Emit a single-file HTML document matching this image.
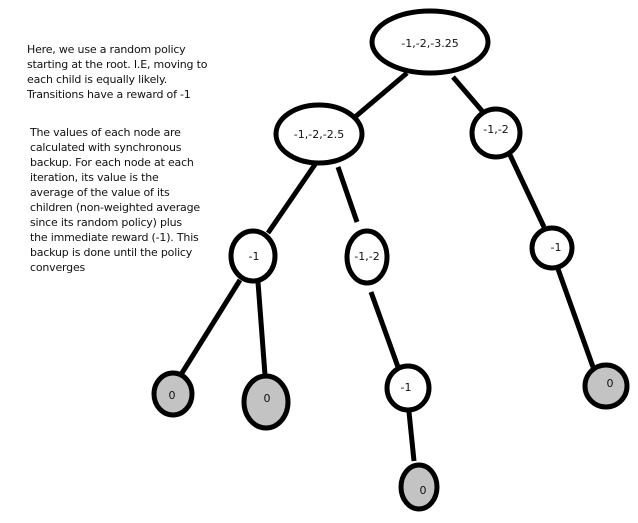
<!DOCTYPE html>
<html><head><style>
body{margin:0;background:#fff;width:638px;height:523px;overflow:hidden;position:relative;font-family:"DejaVu Sans","Liberation Sans",sans-serif;}
.t{position:absolute;font-size:11px;line-height:15px;color:#111;white-space:nowrap;letter-spacing:-0.2px}
</style></head><body>
<div class="t" style="left:27px;top:42px">Here, we use a random policy<br>starting at the root. I.E, moving to<br>each child is equally likely.<br>Transitions have a reward of -1</div>
<div class="t" style="left:30px;top:125px">The values of each node are<br>calculated with synchronous<br>backup. For each node at each<br>iteration, its value is the<br>average of the value of its<br>children (non-weighted average<br>since its random policy) plus<br>the immediate reward (-1). This<br>backup is done until the policy<br>converges</div>
<svg width="638" height="523" style="position:absolute;left:0;top:0" font-family="DejaVu Sans, Liberation Sans, sans-serif" font-size="11">
<g stroke="#000" stroke-width="5" stroke-linecap="butt">
<line x1="407" y1="73" x2="355" y2="117"/>
<line x1="453" y1="77" x2="483" y2="112"/>
<line x1="510" y1="155" x2="544" y2="227"/>
<line x1="558" y1="269" x2="593" y2="367"/>
<line x1="338" y1="167" x2="357" y2="222"/>
<line x1="316" y1="163" x2="268" y2="233"/>
<line x1="240" y1="280" x2="182" y2="373"/>
<line x1="258" y1="282" x2="265" y2="375"/>
<line x1="371" y1="292" x2="398" y2="367"/>
<line x1="409" y1="412" x2="414" y2="461"/>
</g>
<g stroke="#000" stroke-width="5">
<ellipse cx="430" cy="42" rx="58" ry="31" fill="#fff"/>
<ellipse cx="319" cy="134" rx="43" ry="29" fill="#fff"/>
<circle cx="496" cy="133" r="24" fill="#fff"/>
<ellipse cx="253" cy="256" rx="22" ry="25" fill="#fff"/>
<ellipse cx="367" cy="257" rx="20" ry="26" fill="#fff"/>
<circle cx="552" cy="248" r="20" fill="#fff"/>
<ellipse cx="408" cy="388" rx="21" ry="22" fill="#fff"/>
<ellipse cx="173" cy="394" rx="19" ry="21" fill="#c3c3c3"/>
<ellipse cx="266" cy="402" rx="22" ry="26" fill="#c3c3c3"/>
<ellipse cx="419" cy="487" rx="18" ry="22" fill="#c3c3c3"/>
<circle cx="606" cy="386" r="21" fill="#c3c3c3"/>
</g>
<g fill="#111" text-anchor="middle">
<text x="430" y="47">-1,-2,-3.25</text>
<text x="319" y="138">-1,-2,-2.5</text>
<text x="496" y="133">-1,-2</text>
<text x="254" y="260">-1</text>
<text x="367" y="260">-1,-2</text>
<text x="556" y="251">-1</text>
<text x="406" y="391">-1</text>
<text x="172" y="399">0</text>
<text x="267" y="402">0</text>
<text x="423" y="494">0</text>
<text x="610" y="387">0</text>
</g>
</svg>
</body></html>
